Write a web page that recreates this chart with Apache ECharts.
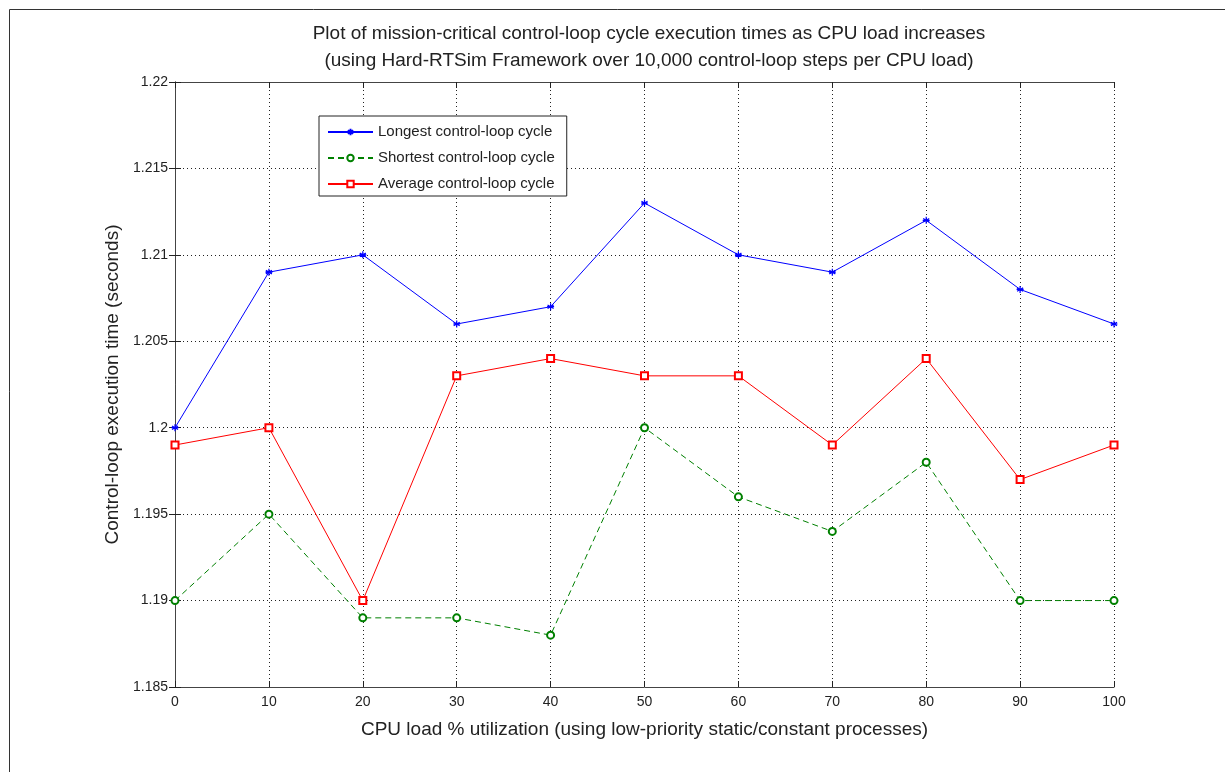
<!DOCTYPE html>
<html><head><meta charset="utf-8">
<script src="https://cdn.jsdelivr.net/npm/echarts@6/dist/echarts.min.js"></script>
<style>html,body{margin:0;padding:0;background:#fff}#c{width:1225px;height:772px}</style>
</head><body><div id="c"></div>
<script>
const cpuLoad = [0,10,20,30,40,50,60,70,80,90,100];
const longest = [1.200,1.209,1.210,1.206,1.207,1.213,1.210,1.209,1.212,1.208,1.206];
const shortest = [1.190,1.195,1.189,1.189,1.188,1.200,1.196,1.194,1.198,1.190,1.190];
const average = [1.199,1.200,1.190,1.203,1.204,1.203,1.203,1.199,1.204,1.197,1.199];
const seriesNames = ['Longest control-loop cycle','Shortest control-loop cycle','Average control-loop cycle'];
const titleLines = ['Plot of mission-critical control-loop cycle execution times as CPU load increases','(using Hard-RTSim Framework over 10,000 control-loop steps per CPU load)'];
const xName = 'CPU load % utilization (using low-priority static/constant processes)';
const yName = 'Control-loop execution time (seconds)';

const FONT = 'Liberation Sans, Arial, sans-serif';
const pairs = arr => cpuLoad.map((x,i)=>[x,arr[i]]);
const star = 'path://M0,-10L0,10M-8.66,-5L8.66,5M-8.66,5L8.66,-5M-10,0L10,0';
const axisLine = {lineStyle:{color:'#444',width:1}};
const axisTick = {inside:true,length:6,lineStyle:{color:'#222'}};
const gridLine = {show:true,lineStyle:{color:'#222',type:[1,3],width:1}};
const chart = echarts.init(document.getElementById('c'),null,{renderer:'canvas'});
chart.setOption({
  animation:false,
  backgroundColor:'#fff',
  textStyle:{fontFamily:FONT},
  title:{text:titleLines.join('\n'),left:644,top:15,textAlign:'center',
    textStyle:{fontSize:19,fontWeight:'normal',color:'#222',lineHeight:27,fontFamily:FONT}},
  graphic:[{type:'rect',shape:{x:9.5,y:9.5,width:1400,height:1000},style:{fill:'none',stroke:'#333',lineWidth:1},silent:true}],
  grid:{left:175,right:111,top:82,bottom:85},
  legend:{orient:'vertical',left:319,top:116,padding:[7,12,3,8],itemGap:8,itemWidth:45,itemHeight:8,
    borderColor:'#222',borderWidth:1,backgroundColor:'#fff',
    textStyle:{fontSize:15,color:'#222',fontFamily:FONT,lineHeight:18},data:seriesNames},
  xAxis:[
    {type:'value',min:0,max:100,interval:10,position:'bottom',
      name:xName,nameLocation:'middle',nameGap:33,
      nameTextStyle:{fontSize:19,color:'#222',fontFamily:FONT},
      axisLabel:{fontSize:14,color:'#222',margin:8},
      axisLine,axisTick,splitLine:gridLine},
    {type:'value',min:0,max:100,interval:10,position:'top',axisLabel:{show:false},
      axisLine,axisTick,splitLine:{show:false}}
  ],
  yAxis:[
    {type:'value',min:1.185,max:1.22,interval:0.005,position:'left',
      name:yName,nameLocation:'middle',nameGap:53,
      nameTextStyle:{fontSize:19,color:'#222',fontFamily:FONT},
      axisLabel:{fontSize:14,color:'#222',margin:7,formatter:v=>String(parseFloat(v.toFixed(3)))},
      axisLine,axisTick,splitLine:gridLine},
    {type:'value',min:1.185,max:1.22,interval:0.005,position:'right',axisLabel:{show:false},
      axisLine,axisTick,splitLine:{show:false}}
  ],
  series:[
    {name:seriesNames[0],type:'line',data:pairs(longest),symbol:star,symbolSize:7,
      lineStyle:{color:'#0000ff',width:1},itemStyle:{color:'#0000ff',borderColor:'#0000ff',borderWidth:1.2}},
    {name:seriesNames[1],type:'line',data:pairs(shortest),symbol:'emptyCircle',symbolSize:7,
      lineStyle:{color:'#008000',width:1,type:[6,4]},itemStyle:{color:'#008000',borderColor:'#008000',borderWidth:1}},
    {name:seriesNames[2],type:'line',data:pairs(average),symbol:'emptyRect',symbolSize:7,
      lineStyle:{color:'#ff0000',width:1},itemStyle:{color:'#ff0000',borderColor:'#ff0000',borderWidth:1}}
  ]
});
</script></body></html>
